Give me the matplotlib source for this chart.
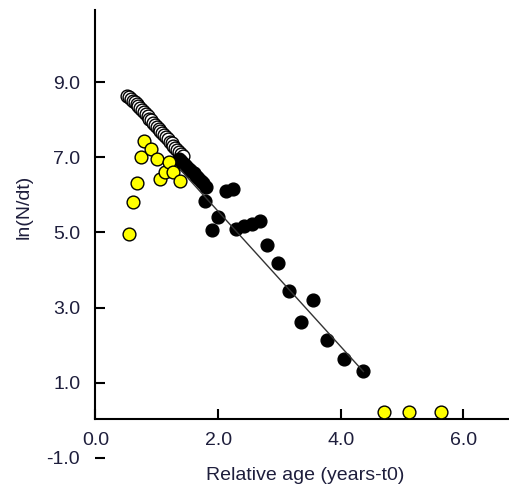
import matplotlib
matplotlib.use("Agg")
import matplotlib.pyplot as plt

plt.rcParams['font.family'] = ['Liberation Sans', 'DejaVu Sans']

# open circles (early part of the curve)
open_x = [0.52, 0.55, 0.58, 0.61, 0.64, 0.67, 0.70, 0.73, 0.76, 0.79, 0.82,
          0.85, 0.88, 0.91, 0.94, 0.97, 1.00, 1.03, 1.06, 1.09, 1.12, 1.15,
          1.18, 1.21, 1.24, 1.27, 1.30, 1.33, 1.36, 1.39, 1.42]
open_y = [8.64, 8.60, 8.55, 8.50, 8.46, 8.41, 8.36, 8.31, 8.25, 8.20, 8.14,
          8.09, 8.03, 7.98, 7.92, 7.87, 7.81, 7.76, 7.70, 7.64, 7.59, 7.53,
          7.48, 7.42, 7.37, 7.31, 7.25, 7.20, 7.14, 7.08, 7.03]

# black points (used in the fit)
black_x = [1.36, 1.40, 1.44, 1.48, 1.52, 1.56, 1.60, 1.64, 1.68, 1.72, 1.76,
           1.80, 1.79, 1.90, 2.00, 2.13, 2.25, 2.30, 2.42, 2.55, 2.68, 2.80,
           2.97, 3.15, 3.35, 3.55, 3.78, 4.06, 4.37]
black_y = [6.95, 6.89, 6.82, 6.77, 6.70, 6.64, 6.57, 6.50, 6.44, 6.37, 6.31,
           6.22, 5.85, 5.06, 5.41, 6.10, 6.15, 5.10, 5.16, 5.22, 5.30, 4.68,
           4.20, 3.43, 2.63, 3.21, 2.15, 1.64, 1.31]

# yellow points (excluded)
yellow_x = [0.55, 0.61, 0.67, 0.75, 0.79, 0.91, 1.00, 1.05, 1.13, 1.20, 1.27,
            1.38, 4.71, 5.12, 5.64]
yellow_y = [4.97, 5.82, 6.32, 7.02, 7.44, 7.22, 6.96, 6.42, 6.60, 6.87, 6.60,
            6.37, 0.22, 0.22, 0.22]

# regression line
fit_x = [1.38, 4.37]
fit_y = [6.68, 1.30]

fig = plt.figure(figsize=(5.09, 4.88), dpi=100)
ax = fig.add_axes([0.1876, 0.0615, 0.8124, 0.918])

ms = 9.2
ax.plot(open_x, open_y, 'o', ms=ms, mfc='white', mec='black', mew=1.0, zorder=3)
ax.plot(black_x, black_y, 'o', ms=ms, mfc='black', mec='black', mew=1.0, zorder=4)
ax.plot(fit_x, fit_y, '-', color='#333333', lw=1.0, zorder=5)
ax.plot(yellow_x, yellow_y, 'o', ms=ms, mfc='#ffff00', mec='black', mew=1.0,
        zorder=6, clip_on=False)

ax.set_xlim(0, 6.745)
ax.set_ylim(-1.0, 10.92)

ax.spines['top'].set_visible(False)
ax.spines['right'].set_visible(False)
ax.spines['bottom'].set_position(('data', 0.05))
ax.spines['left'].set_bounds(0.05, 10.92)
for s in ('left', 'bottom'):
    ax.spines[s].set_linewidth(1.5)

ax.set_xticks([0, 2, 4, 6])
ax.set_xticklabels(['0.0', '2.0', '4.0', '6.0'])
ax.set_yticks([-1, 1, 3, 5, 7, 9])
ax.set_yticklabels(['-1.0', '1.0', '3.0', '5.0', '7.0', '9.0'])

txt = '#1e1e3c'
ax.tick_params(axis='both', direction='in', length=7, width=1.5,
               labelsize=14, labelcolor=txt)
ax.tick_params(axis='y', pad=11)
ax.tick_params(axis='x', pad=10)

ax.set_xlabel('Relative age (years-t0)', fontsize=14, color=txt)
ax.set_ylabel('ln(N/dt)', fontsize=14, color=txt)
ax.yaxis.set_label_coords(-0.153, 0.56)
ax.xaxis.set_label_coords(0.506, -0.02)
ax.xaxis.label.set_va('top')

fig.savefig('out.png', dpi=100)
